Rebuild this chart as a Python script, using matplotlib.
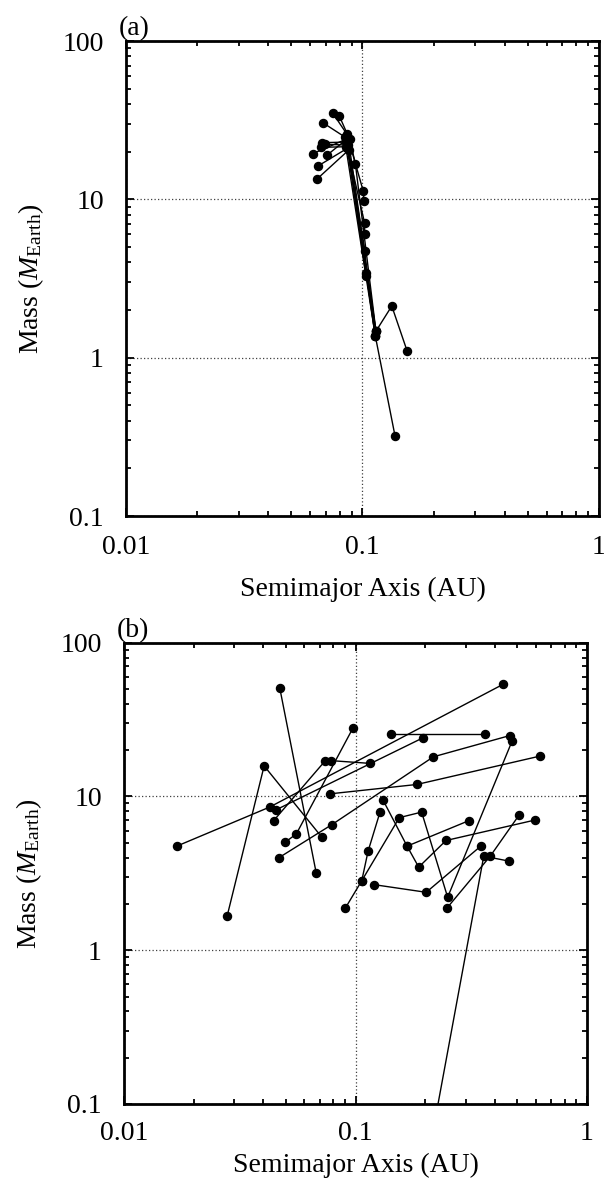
import numpy as np
import pandas as pd
import matplotlib
matplotlib.use("Agg")
import matplotlib.pyplot as plt
from matplotlib.ticker import FixedLocator, LogLocator, FuncFormatter, NullFormatter

# panel (a): planets of each simulated system, ordered by semimajor axis
a_system = [1, 1, 1, 1,
            2, 2, 2, 2, 2, 2,
            3, 3, 3, 3,
            4, 4, 4, 4,
            5, 5, 5,
            6, 6, 6, 6,
            7, 7, 7,
            8, 8, 8,
            9, 9, 9,
            10, 10, 10]
a_axis = [0.0747, 0.0861, 0.1007, 0.1015,
          0.0798, 0.0883, 0.0933, 0.114, 0.133, 0.1545,
          0.0684, 0.0841, 0.1020, 0.1022,
          0.0675, 0.0855, 0.1025, 0.1030,
          0.0693, 0.0865, 0.1035,
          0.0667, 0.0850, 0.1132, 0.1374,
          0.0615, 0.0870, 0.114,
          0.0711, 0.0858, 0.1132,
          0.0651, 0.0862, 0.114,
          0.0641, 0.0875, 0.1132]
a_mass = [35.2, 25.7, 11.3, 9.83,
          33.6, 23.9, 16.8, 1.47, 2.12, 1.10,
          30.3, 24.8, 7.13, 6.08,
          22.8, 23.0, 4.72, 3.43,
          22.3, 22.0, 3.27,
          21.3, 21.5, 1.38, 0.318,
          19.4, 24.3, 1.47,
          19.1, 24.0, 1.38,
          16.3, 21.0, 1.47,
          13.4, 20.5, 1.38]

# panel (b)
b_system = [1, 1,
            2, 2, 2,
            3, 3, 3,
            4, 4,
            5, 5,
            6, 6,
            7, 7, 7,
            8, 8, 8, 8,
            9, 9, 9,
            10, 10,
            11, 11, 11, 11,
            12, 12, 12, 12, 12,
            13, 13, 13,
            14, 14, 14, 14,
            15, 15, 15,
            16, 16, 16,
            17, 17, 17]
b_axis = [0.0471, 0.0677,
          0.0279, 0.0403, 0.0714,
          0.0169, 0.0426, 0.434,
          0.0443, 0.0741,
          0.0781, 0.1156,
          0.0455, 0.195,
          0.0497, 0.0555, 0.0973,
          0.0466, 0.0791, 0.217, 0.465,
          0.0778, 0.184, 0.627,
          0.1428, 0.3626,
          0.0904, 0.1064, 0.1133, 0.1276,
          0.1064, 0.1546, 0.193, 0.250, 0.474,
          0.1315, 0.167, 0.309,
          0.167, 0.1875, 0.246, 0.598,
          0.120, 0.202, 0.3486,
          0.196, 0.358, 0.459,
          0.249, 0.382, 0.509]
b_mass = [50.5, 3.16,
          1.67, 15.8, 5.45,
          4.75, 8.53, 53.6,
          6.96, 17.1,
          17.1, 16.4,
          8.20, 24.0,
          5.04, 5.70, 27.7,
          3.99, 6.56, 18.1, 24.9,
          10.4, 11.96, 18.3,
          25.6, 25.6,
          1.88, 2.83, 4.40, 7.91,
          2.83, 7.28, 7.91, 2.21, 22.8,
          9.46, 4.75, 6.96,
          4.75, 3.47, 5.17, 7.03,
          2.67, 2.38, 4.77,
          0.03, 4.09, 3.80,
          1.89, 4.09, 7.57]

x_ticks = [0.01, 0.1, 1]
y_ticks = [0.1, 1, 10, 100]

plt.rcParams["font.family"] = "Liberation Serif"
plt.rcParams["mathtext.fontset"] = "custom"
plt.rcParams["mathtext.rm"] = "Liberation Serif"
plt.rcParams["mathtext.it"] = "Liberation Serif:italic"

df_a = pd.DataFrame({"sys": a_system, "a": a_axis, "m": a_mass})
df_b = pd.DataFrame({"sys": b_system, "a": b_axis, "m": b_mass})

fig = plt.figure(figsize=(6.04, 11.89), dpi=100)
ax_a = fig.add_axes([0.2086, 0.5660, 0.7831, 0.3995])
ax_b = fig.add_axes([0.2053, 0.0715, 0.7666, 0.3880])


def style(ax, tag, xpad, labelpad):
    ax.set_xscale("log")
    ax.set_yscale("log")
    ax.set_xlim(0.01, 1)
    ax.set_ylim(0.1, 100)
    ax.xaxis.set_major_locator(FixedLocator(x_ticks))
    ax.yaxis.set_major_locator(FixedLocator(y_ticks))
    ax.xaxis.set_minor_locator(LogLocator(base=10, subs=np.arange(2, 10)))
    ax.yaxis.set_minor_locator(LogLocator(base=10, subs=np.arange(2, 10)))
    fmt = FuncFormatter(lambda v, p: "%g" % v)
    ax.xaxis.set_major_formatter(fmt)
    ax.yaxis.set_major_formatter(fmt)
    ax.xaxis.set_minor_formatter(NullFormatter())
    ax.yaxis.set_minor_formatter(NullFormatter())
    ax.tick_params(which="both", direction="in", top=True, right=True,
                   labelsize=20, width=1.3)
    ax.tick_params(which="major", length=6)
    ax.tick_params(which="minor", length=3.5)
    ax.tick_params(axis="x", pad=xpad)
    ax.tick_params(axis="y", pad=16)
    ax.grid(True, which="major", color="0.25", linestyle=(0, (1, 1.8)), linewidth=0.9)
    for s in ax.spines.values():
        s.set_linewidth(2)
    ax.set_xlabel("Semimajor Axis (AU)", fontsize=20, labelpad=labelpad)
    ax.set_ylabel(r"Mass ($M_{\rm Earth}$)", fontsize=20, labelpad=12)
    ax.text(-0.015, 1.0, tag, transform=ax.transAxes, fontsize=20,
            ha="left", va="bottom")


for ax, df, tag, xpad, lpad in [(ax_a, df_a, "(a)", 14, 12), (ax_b, df_b, "(b)", 12, 5)]:
    for sid, g in df.groupby("sys"):
        ax.plot(g["a"], g["m"], "-o", color="black", lw=1.0, ms=5.8, zorder=3)
    style(ax, tag, xpad, lpad)

fig.savefig("out.png", dpi=100)
